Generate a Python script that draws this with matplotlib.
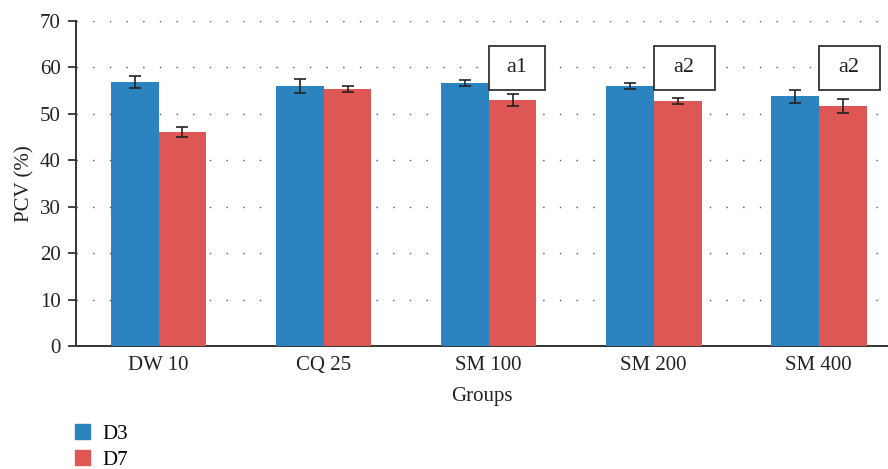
import numpy as np
import matplotlib.pyplot as plt
from matplotlib.patches import Patch, Rectangle

# PCV by group, day 3 and day 7
groups = ['DW 10', 'CQ 25', 'SM 100', 'SM 200', 'SM 400']
d3 = [56.9, 56.0, 56.7, 56.0, 53.8]
d3_err = [1.3, 1.5, 0.6, 0.6, 1.4]
d7 = [46.1, 55.3, 53.0, 52.8, 51.7]
d7_err = [1.0, 0.6, 1.3, 0.7, 1.6]

# significance labels (group index, text)
marks = [(2, 'a1'), (3, 'a2'), (4, 'a2')]

blue = '#2b83bf'
red = '#df5755'

plt.rcParams['font.family'] = ['Liberation Serif', 'DejaVu Serif']

fig = plt.figure(figsize=(8.88, 4.69), dpi=100)
ax = fig.add_axes([0.0856, 0.2623, 0.9144, 0.6929])

x = np.arange(len(groups))
w = 0.29
ax.bar(x - w / 2, d3, w, color=blue, yerr=d3_err, capsize=4,
       error_kw=dict(ecolor='#222222', elinewidth=1.2, capthick=1.2), zorder=3)
ax.bar(x + w / 2, d7, w, color=red, yerr=d7_err, capsize=4,
       error_kw=dict(ecolor='#222222', elinewidth=1.2, capthick=1.2), zorder=3)

# boxed labels sitting over the D7 bars
for i, txt in marks:
    bw = 0.34 if txt == 'a1' else 0.37
    ax.add_patch(Rectangle((i, 55.2), bw, 9.5, facecolor='white',
                           edgecolor='#333333', linewidth=1.3, zorder=4))
    ax.text(i + bw / 2, 60, txt, ha='center', va='center', fontsize=16,
            color='#222222', zorder=5)

ax.set_xlim(-0.5, 4.42)
ax.set_ylim(0, 70)
ax.set_yticks(range(0, 71, 10))
ax.set_xticks(x)
ax.set_xticklabels(groups)
ax.tick_params(axis='x', length=0, labelsize=15, pad=7, colors='#222222')
ax.tick_params(axis='y', length=6, width=1.2, labelsize=15, colors='#222222', pad=5)
ax.yaxis.grid(True, linestyle=(0, (1, 11)), color='#555555', linewidth=1)
ax.set_axisbelow(True)
for s in ['top', 'right']:
    ax.spines[s].set_visible(False)
for s in ['left', 'bottom']:
    ax.spines[s].set_linewidth(1.4)
    ax.spines[s].set_color('#333333')

ax.set_xlabel('Groups', fontsize=15, color='#222222', labelpad=9)
ax.set_ylabel('PCV (%)', fontsize=15, color='#222222', labelpad=4)

handles = [Patch(color=blue, label='D3'), Patch(color=red, label='D7')]
fig.legend(handles=handles, loc='center left', bbox_to_anchor=(0.085, 0.047),
           frameon=False, fontsize=15, handlelength=0.7, handleheight=0.7,
           handletextpad=0.6, labelspacing=0.3, borderpad=0, borderaxespad=0)

plt.savefig('out.png', dpi=100)
